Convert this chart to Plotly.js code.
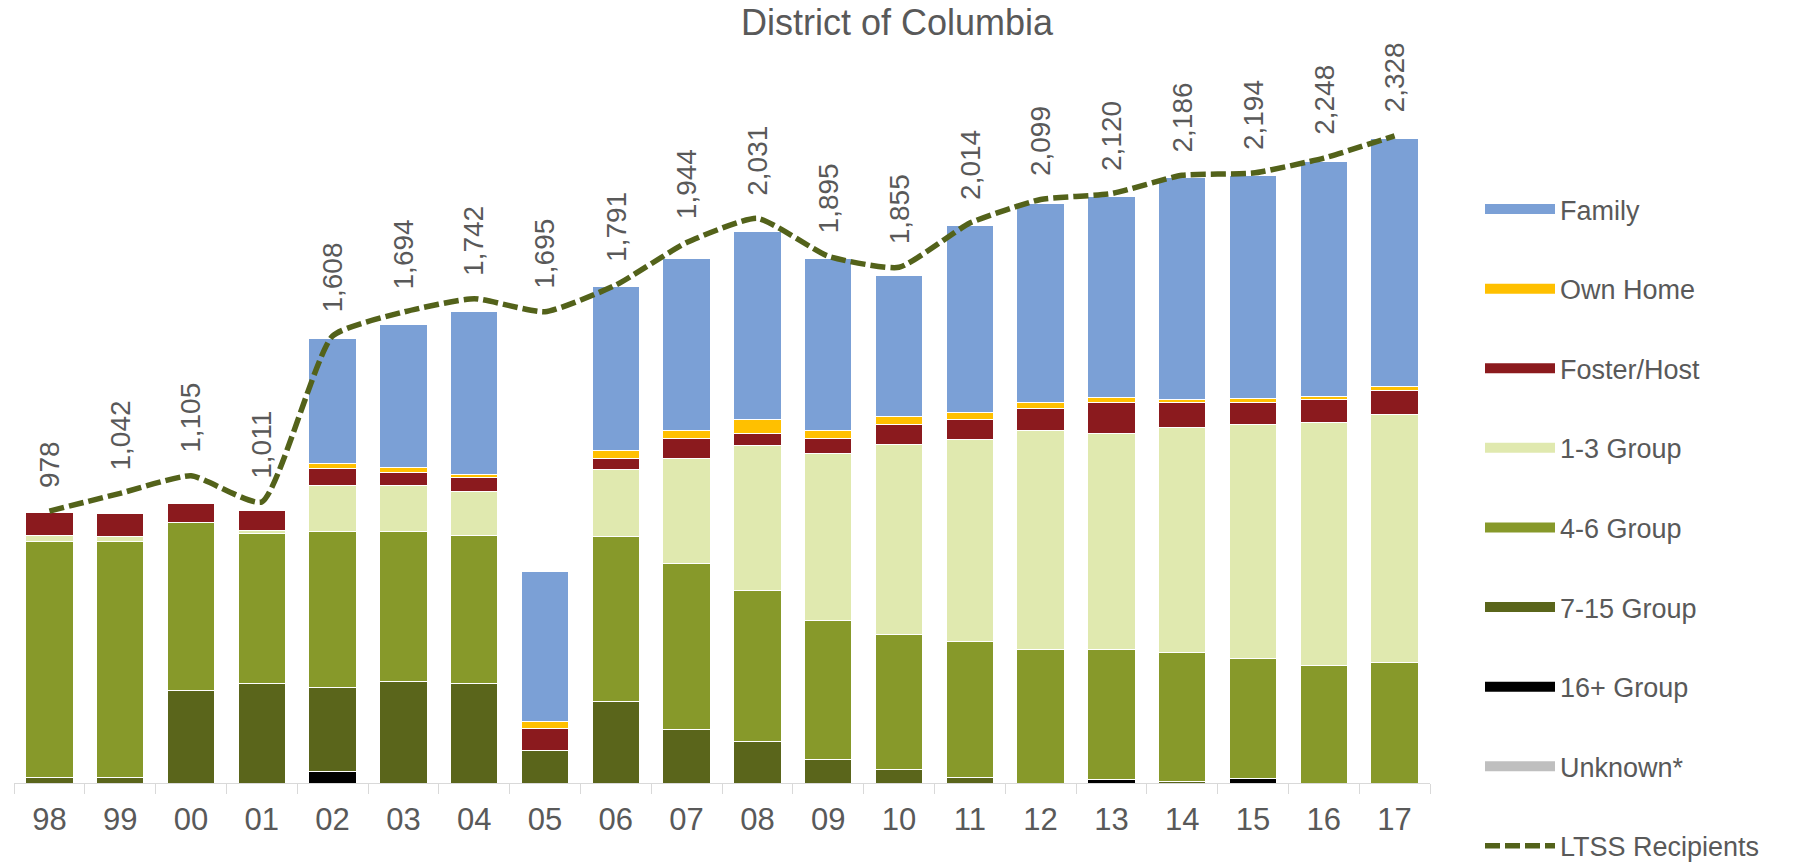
<!DOCTYPE html>
<html>
<head>
<meta charset="utf-8">
<script src="https://cdn.plot.ly/plotly-3.0.1.min.js"></script>
<style>html,body{margin:0;padding:0;background:#fff;}#chart{width:1810px;height:863px;}</style>
</head>
<body>
<div id="chart"></div>
<script>
const years = ['98','99','00','01','02','03','04','05','06','07','08','09','10','11','12','13','14','15','16','17'];
const ltssRecipients = [978,1042,1105,1011,1608,1694,1742,1695,1791,1944,2031,1895,1855,2014,2099,2120,2186,2194,2248,2328];
const unknownVals = [0,0,0,0,0,0,0,0,0,0,0,0,0,0,0,0,0,0,0,0];
const group16Vals = [0,0,0,0,43,0,0,0,0,0,0,0,0,0,0,11,0,16,0,0];
const group7to15Vals = [19,19,334,358,300,366,358,118,294,192,150,85,48,19,0,0,6,0,0,0];
const group4to6Vals = [851,850,602,540,563,537,533,0,591,596,541,499,486,490,482,471,462,433,422,435];
const group1to3Vals = [19,18,0,12,164,167,158,0,241,379,522,602,685,726,786,777,811,842,873,890];
const fosterHostVals = [83,83,71,70,61,48,49,78,41,71,45,55,69,74,80,108,89,79,85,87];
const ownHomeVals = [0,0,0,0,20,18,13,24,29,31,48,28,29,23,22,18,12,14,9,14];
const familyVals = [0,0,0,0,448,513,585,540,589,618,678,618,509,672,714,726,797,801,847,893];

const seriesNames = ['Unknown*','16+ Group','7-15 Group','4-6 Group','1-3 Group','Foster/Host','Own Home','Family'];
const seriesValues = [unknownVals,group16Vals,group7to15Vals,group4to6Vals,group1to3Vals,fosterHostVals,ownHomeVals,familyVals];
const seriesColors = ['#BFBFBF','#000000','#5A651B','#87992A','#E0E9AF','#8B1A1E','#FFC000','#7BA0D6'];
const lineColor = '#53621A';
const textColor = '#595959';
const FONT = 'Liberation Sans, Arial, sans-serif';

const traces = [];
// stacked bars (bottom to top)
seriesNames.forEach((name, i) => {
  traces.push({
    type: 'bar', x: years, y: seriesValues[i], name: name,
    marker: {color: seriesColors[i], line: {color: '#FFFFFF', width: 1}},
    showlegend: false
  });
});
// legend entries (top of stack first), drawn as wide swatches
for (let i = seriesNames.length - 1; i >= 0; i--) {
  traces.push({
    type: 'scatter', mode: 'lines', x: [null], y: [null], name: seriesNames[i],
    line: {color: seriesColors[i], width: 10}, legendgroup: 'g' + i, showlegend: true
  });
}
traces.push({
  type: 'scatter', mode: 'lines', x: years, y: ltssRecipients, name: 'LTSS Recipients',
  line: {color: lineColor, width: 5.5, dash: '15px,5px', shape: 'spline', smoothing: 0.5},
  legendgroup: 'ltss'
});

// data labels placed by category index on the category axis
const annotations = years.map((yr, i) => ({
  x: i, y: ltssRecipients[i], xref: 'x', yref: 'y',
  text: ltssRecipients[i].toLocaleString('en-US'),
  textangle: -90, showarrow: false, xanchor: 'center', yanchor: 'bottom', yshift: 21,
  font: {family: FONT, size: 28, color: textColor}
}));

const layout = {
  width: 1810, height: 863,
  margin: {l: 14, r: 380, t: 88, b: 80},
  paper_bgcolor: '#FFFFFF', plot_bgcolor: '#FFFFFF',
  title: {text: 'District of Columbia', x: 0.4956, xref: 'container', xanchor: 'center',
          y: 0.9745, yref: 'container', yanchor: 'middle',
          font: {family: FONT, size: 36, color: textColor}},
  barmode: 'stack', bargap: 0.33,
  xaxis: {type: 'category', categoryorder: 'array', categoryarray: years, range: [-0.5, years.length - 0.5],
          showline: true, linecolor: '#D9D9D9', linewidth: 1, tickangle: 0,
          ticks: 'outside', tickson: 'boundaries', ticklen: 10, tickcolor: '#D9D9D9',
          ticklabelstandoff: 9,
          tickfont: {family: FONT, size: 31, color: textColor}, showgrid: false, zeroline: false},
  yaxis: {range: [0, 2500], showgrid: false, zeroline: false, showline: false, showticklabels: false, ticks: ''},
  showlegend: true,
  legend: {xref: 'container', yref: 'container', x: 1480/1810, y: 1 - 185/863, xanchor: 'left', yanchor: 'top',
           traceorder: 'grouped', tracegroupgap: 41.5, itemwidth: 70, maxheight: 863,
           font: {family: FONT, size: 27, color: textColor}, bgcolor: 'rgba(0,0,0,0)'},
  annotations: annotations,
  hovermode: false
};

Plotly.newPlot('chart', traces, layout, {displayModeBar: false, staticPlot: true});
</script>
</body>
</html>
